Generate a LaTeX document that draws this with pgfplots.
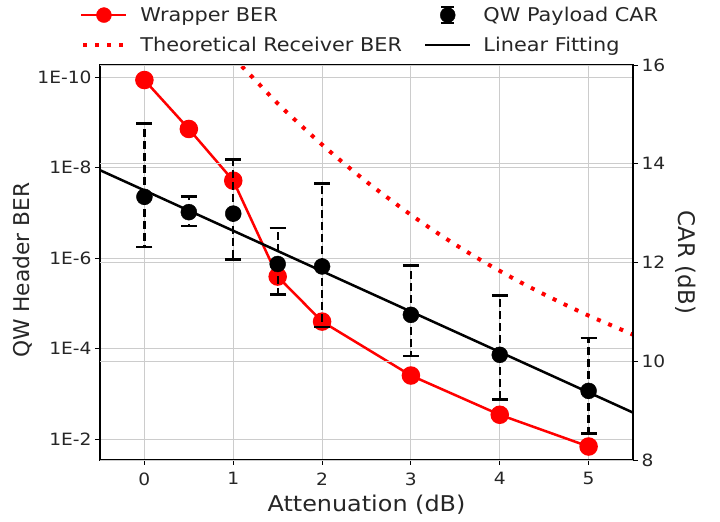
\documentclass[border=0pt]{standalone}
\usepackage{fontspec}
\setmainfont[FakeStretch=1.1]{DejaVu Sans}
\newfontfamily\rotfont{DejaVu Sans}
\usepackage{pgfplots}
\pgfplotsset{compat=1.18}
\begin{document}
\begin{tikzpicture}
\path[use as bounding box] (-100bp,-62bp) rectangle (620bp,460bp);
\begin{axis}[
  at={(0bp,0bp)}, anchor=south west, scale only axis,
  width=533bp, height=395bp,
  xmin=-0.5, xmax=5.5,
  ymode=log, y dir=reverse, ymin=5.35e-11, ymax=0.029,
  yminorticks=false,
  xtick={0,1,2,3,4,5},
  ytick={1e-10,1e-8,1e-6,1e-4,1e-2},
  yticklabels={1E-10,1E-8,1E-6,1E-4,1E-2},
  xtick pos=bottom, ytick pos=left,
  tick align=outside, major tick length=5bp,
  tick style={black, line width=1bp},
  axis line style={line width=1.2bp},
  grid=major, major grid style={black!20, line width=0.9bp},
  /pgf/number format/assume math mode=true,
  tick label style={font=\fontsize{17}{17}\selectfont, text=black!85},
  xticklabel style={yshift=-4bp},
  xlabel={Attenuation (dB)},
  ylabel={\rotfont QW Header BER},
  label style={font=\fontsize{21.8}{22}\selectfont, text=black!85},
  xlabel style={at={(axis description cs:0.5,-0.114)}, anchor=center},
  ylabel style={at={(axis description cs:-0.1445,0.48)}, anchor=center},
  legend columns=2,
  legend cell align=left,
  legend style={at={(axis description cs:-0.0375,1.152)}, anchor=north west,
    draw=none, fill=none, inner sep=0pt,
    font=\fontsize{19}{19}\selectfont, text=black!85, row sep=10bp,
    /tikz/every odd column/.append style={column sep=10bp},
    /tikz/every even column/.append style={column sep=20bp}},
]
\addlegendimage{legend image code/.code={
  \draw[red, line width=2.5bp] (0bp,0bp)--(45bp,0bp);
  \fill[red] (22.5bp,0bp) circle (7.5bp);}}
\addlegendentry{Wrapper BER}
\addlegendimage{legend image code/.code={
  \draw[black, line width=2.5bp] (22.5bp,-8bp)--(22.5bp,8bp);
  \draw[black, line width=2.5bp] (16bp,-8bp)--(29bp,-8bp) (16bp,8bp)--(29bp,8bp);
  \fill[black] (22.5bp,0bp) circle (7.5bp);}}
\addlegendentry{QW Payload CAR}
\addlegendimage{legend image code/.code={
  \draw[red, line width=4bp, dash pattern=on 4bp off 8bp] (2bp,0bp)--(45bp,0bp);}}
\addlegendentry{Theoretical Receiver BER}
\addlegendimage{legend image code/.code={
  \draw[black, line width=2.5bp] (0bp,0bp)--(45bp,0bp);}}
\addlegendentry{Linear Fitting}

% Theoretical receiver BER (dotted)
\addplot[forget plot, red, line width=4bp, dash pattern=on 4bp off 8.2bp, smooth] coordinates {
 (1.0,3.67e-11) (1.25,1.17e-10) (1.5,3.80e-10) (1.75,1.10e-9) (2.0,3.09e-9)
 (2.25,8.13e-9) (2.5,2.04e-8) (2.75,4.79e-8) (3.0,1.10e-7) (3.25,2.40e-7)
 (3.5,5.01e-7) (3.75,1.00e-6) (4.0,1.91e-6) (4.25,3.55e-6) (4.5,6.31e-6)
 (4.75,1.10e-5) (5.0,1.86e-5) (5.25,3.02e-5) (5.5,4.90e-5)
};
% Wrapper BER
\addplot[forget plot, red, line width=2.5bp, mark=*, mark size=8bp, mark options={solid}] coordinates {
 (0,1.15e-10) (0.5,1.39e-9) (1,1.93e-8) (1.5,2.55e-6) (2,2.52e-5)
 (3,3.93e-4) (4,2.90e-3) (5,1.46e-2)
};
\end{axis}
\begin{axis}[
  at={(0bp,0bp)}, anchor=south west, scale only axis,
  width=533bp, height=395bp,
  xmin=-0.5, xmax=5.5, ymin=8, ymax=16,
  axis y line*=right, axis x line=none,
  ytick={8,10,12,14,16},
  tick align=outside, major tick length=5bp,
  tick style={black, line width=1bp},
  axis line style={line width=1.2bp},
  ymajorgrids, major grid style={black!20, line width=0.9bp},
  /pgf/number format/assume math mode=true,
  tick label style={font=\fontsize{17}{17}\selectfont, text=black!85},
  ylabel={\rotfont CAR (dB)},
  label style={font=\fontsize{23}{23}\selectfont, text=black!85},
  ylabel style={at={(axis description cs:1.0994,0.5)}, anchor=center, rotate=180},
]
\addplot[black, line width=2.5bp] coordinates {(-0.5,13.87) (5.5,8.96)};
\addplot[black, only marks, mark=*, mark size=8bp,
  error bars/.cd, y dir=both, y explicit,
  error bar style={line width=2.3bp, dash pattern=on 8bp off 4bp},
  error mark options={rotate=90, mark size=8bp, line width=2.5bp, solid}]
 coordinates {
 (0,13.33) += (0,1.49) -= (0,1.02)
 (0.5,13.02) += (0,0.32) -= (0,0.28)
 (1,12.99) += (0,1.10) -= (0,0.93)
 (1.5,11.97) += (0,0.73) -= (0,0.62)
 (2,11.92) += (0,1.68) -= (0,1.23)
 (3,10.94) += (0,1.00) -= (0,0.83)
 (4,10.13) += (0,1.20) -= (0,0.90)
 (5,9.40) += (0,1.07) -= (0,0.86)
};
\end{axis}
\end{tikzpicture}
\end{document}
